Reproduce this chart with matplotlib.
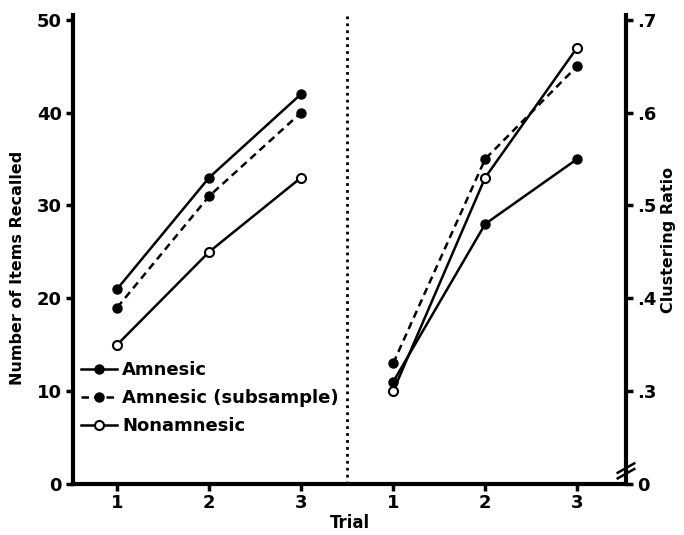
import matplotlib
matplotlib.use("Agg")
import matplotlib.pyplot as plt

# ---- data ----
trials = [1, 2, 3]
trial_labels = ["1", "2", "3"]
recall_amnesic = [21, 33, 42]
recall_subsample = [19, 31, 40]
recall_nonamnesic = [15, 25, 33]
cluster_amnesic = [0.31, 0.48, 0.55]
cluster_subsample = [0.33, 0.55, 0.65]
cluster_nonamnesic = [0.30, 0.53, 0.67]
left_ticks = [0, 10, 20, 30, 40, 50]
right_ticks = [0.2, 0.3, 0.4, 0.5, 0.6, 0.7]
right_tick_labels = ["0", ".3", ".4", ".5", ".6", ".7"]

FONT = "DejaVu Sans"
plt.rcParams["font.family"] = FONT
plt.rcParams["font.weight"] = "bold"

fig = plt.figure(figsize=(6.84, 5.35), dpi=100)
ax = fig.add_axes([73/684, 1-484/535, (626-73)/684, (484-15)/535])

left_x = trials
right_x = [t + 3 for t in trials]

ax.set_xlim(0.52, 6.53)
ax.set_ylim(0, 50.5)

lw = 1.8
ms = 6.5
h1, = ax.plot(left_x, recall_amnesic, color="black", lw=lw, marker="o", ms=ms,
              mfc="black", mec="black", label="Amnesic")
h2, = ax.plot(left_x, recall_subsample, color="black", lw=lw, ls=(0, (3, 2)), marker="o",
              ms=ms, mfc="black", mec="black", label="Amnesic (subsample)")
h3, = ax.plot(left_x, recall_nonamnesic, color="black", lw=lw, marker="o", ms=ms,
              mfc="white", mec="black", mew=1.5, label="Nonamnesic")

ax2 = ax.twinx()
ax2.set_ylim(0.2, 0.2 + 50.5 / 100)
ax2.plot(right_x, cluster_amnesic, color="black", lw=lw, marker="o", ms=ms,
         mfc="black", mec="black")
ax2.plot(right_x, cluster_subsample, color="black", lw=lw, ls=(0, (3, 2)), marker="o",
         ms=ms, mfc="black", mec="black")
ax2.plot(right_x, cluster_nonamnesic, color="black", lw=lw, marker="o", ms=ms,
         mfc="white", mec="black", mew=1.5)

# separator
ax.axvline(3.5, color="black", lw=2, ls=(0, (1, 1.5)))

# spines
for a in (ax, ax2):
    a.spines["top"].set_visible(False)
    for s in ("left", "right", "bottom"):
        a.spines[s].set_linewidth(3)
ax.spines["right"].set_visible(False)
ax2.spines["left"].set_visible(False)
ax2.spines["bottom"].set_visible(False)

ax.set_xticks(left_x + right_x)
ax.set_xticklabels(trial_labels + trial_labels)
ax.set_yticks(left_ticks)
ax.tick_params(axis="both", length=5, width=2.5, labelsize=13, pad=3)
ax.tick_params(axis="x", pad=2)
ax2.set_yticks(right_ticks)
ax2.set_yticklabels(right_tick_labels)
ax2.tick_params(axis="y", length=5, width=2.5, labelsize=13, pad=3)
for lab in ax.get_xticklabels() + ax.get_yticklabels() + ax2.get_yticklabels():
    lab.set_fontweight("bold")

ax.set_xlabel("Trial", fontsize=12, fontweight="bold", labelpad=2)
ax.set_ylabel("Number of Items Recalled", fontsize=11.5, fontweight="bold")
ax.yaxis.set_label_coords(-0.087, 0.46)
ax2.set_ylabel("Clustering Ratio", fontsize=11.5, fontweight="bold")
ax2.yaxis.set_label_coords(1.064, 0.52)

# axis break on right spine
for dy in (0.0, 0.012):
    ax.plot([0.985, 1.015], [0.012 + dy, 0.032 + dy], transform=ax.transAxes,
            color="black", lw=1.8, clip_on=False)

leg = ax.legend(handles=[h1, h2, h3], loc="upper left", bbox_to_anchor=(0.014, 0.262),
                frameon=False, fontsize=13, handlelength=2.0, handletextpad=0.3,
                labelspacing=0.55, borderaxespad=0, borderpad=0)
for t in leg.get_texts():
    t.set_fontweight("bold")

fig.savefig("out.png", dpi=100)
